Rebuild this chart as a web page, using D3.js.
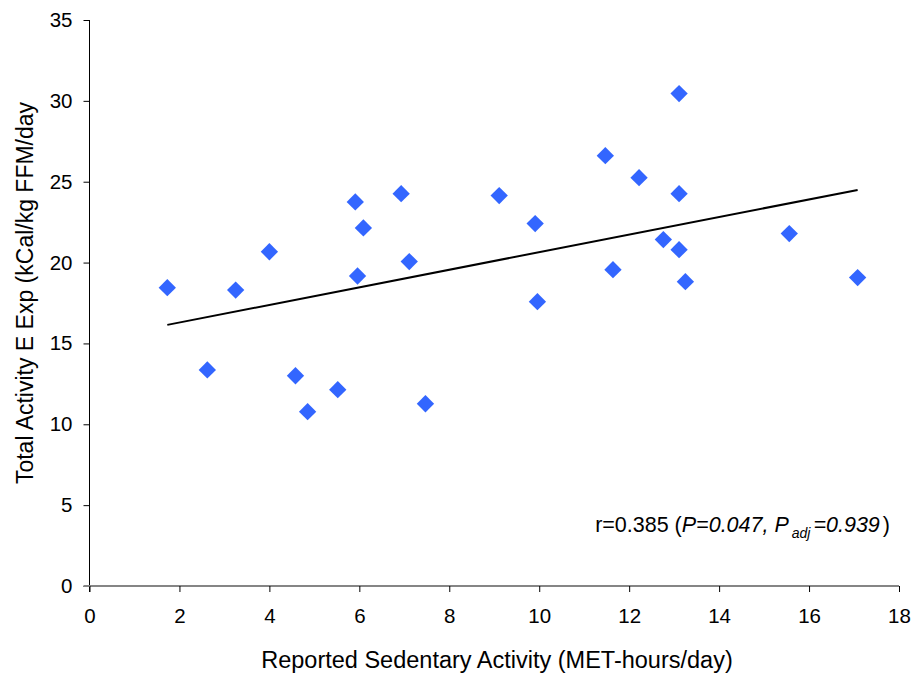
<!DOCTYPE html>
<html>
<head>
<meta charset="utf-8">
<script src="https://cdn.jsdelivr.net/npm/d3@7"></script>
<style>
  body { margin: 0; background: #fff; }
  svg { display: block; font-family: "Liberation Sans", Arial, sans-serif; }
</style>
</head>
<body>
<svg id="chart" width="917" height="677"></svg>
<script>
// reported sedentary activity (MET-hours/day)
var sedentary = [1.73, 2.62, 3.25, 4.0, 4.58, 4.85, 5.52, 5.91, 5.96, 6.09, 6.93, 7.11, 7.47,
  9.11, 9.91, 9.96, 11.47, 11.64, 12.22, 12.76, 13.11, 13.11, 13.11, 13.25, 15.56, 17.08];
// total activity energy expenditure (kCal/kg FFM/day)
var activityExp = [18.45, 13.36, 18.3, 20.67, 13.0, 10.78, 12.14, 23.75, 19.17, 22.14, 24.26, 20.06, 11.27,
  24.14, 22.41, 17.58, 26.61, 19.56, 25.25, 21.42, 30.45, 24.26, 20.8, 18.82, 21.79, 19.07];
var xTicks = [0, 2, 4, 6, 8, 10, 12, 14, 16, 18];
var yTicks = [0, 5, 10, 15, 20, 25, 30, 35];

var svg = d3.select("#chart");
var margin = {left: 89.5, right: 18, top: 20, bottom: 91};
var width = 917 - margin.left - margin.right;
var height = 677 - margin.top - margin.bottom;

var g = svg.append("g")
    .attr("transform", "translate(" + margin.left + "," + margin.top + ")");

var x = d3.scaleLinear().domain([0, 18]).range([0, width]);
var y = d3.scaleLinear().domain([0, 35]).range([height, 0]);

var data = [];
for (var i = 0; i < sedentary.length; i++) {
  data.push({"x": sedentary[i], "y": activityExp[i]});
}

// least squares trend line
var mx = d3.mean(data, function(d) { return d.x; });
var my = d3.mean(data, function(d) { return d.y; });
var sxy = d3.sum(data, function(d) { return (d.x - mx) * (d.y - my); });
var sxx = d3.sum(data, function(d) { return (d.x - mx) * (d.x - mx); });
var slope = sxy / sxx;
var icpt = my - slope * mx;
var xExt = d3.extent(sedentary);
var trend = [{"x": xExt[0]}, {"x": xExt[1]}];

// Y axis
var yAxis = g.append("g")
    .call(d3.axisLeft(y).tickValues(yTicks).tickSize(6).tickPadding(11));
yAxis.select(".domain").attr("stroke", "#000").attr("d", "M0,0V" + (height + 6));
yAxis.selectAll("text").style("font-size", "20.5px").attr("fill", "#000");

// X axis
var xAxis = g.append("g")
    .attr("transform", "translate(0," + height + ")")
    .call(d3.axisBottom(x).tickValues(xTicks).tickSize(6).tickPadding(16));
xAxis.select(".domain").attr("stroke", "#858585").attr("stroke-width", 2)
    .attr("d", "M-6,0H" + width);
xAxis.selectAll(".tick line").attr("stroke", "#000");
xAxis.selectAll("text").style("font-size", "20.5px").attr("fill", "#000");

// trend line
var line = d3.line()
    .x(function(d) { return x(d.x); })
    .y(function(d) { return y(icpt + slope * d.x); });
g.append("path")
    .datum(trend)
    .attr("fill", "none")
    .attr("stroke", "#000")
    .attr("stroke-width", 2)
    .attr("d", line);

// points
g.selectAll(".pt")
    .data(data)
  .enter().append("path")
    .attr("class", "pt")
    .attr("d", d3.symbol().type(d3.symbolSquare).size(150))
    .attr("transform", function(d) { return "translate(" + x(d.x) + "," + y(d.y) + ") rotate(45)"; })
    .attr("fill", "#3366FF");

// axis titles
svg.append("text")
    .attr("x", 497)
    .attr("y", 668)
    .style("text-anchor", "middle")
    .style("font-size", "23.5px")
    .text("Reported Sedentary Activity (MET-hours/day)");

svg.append("text")
    .attr("transform", "translate(33,293) rotate(-90)")
    .style("text-anchor", "middle")
    .style("font-size", "23px")
    .text("Total Activity E Exp (kCal/kg FFM/day");

// annotation
var note = svg.append("text")
    .attr("x", 890)
    .attr("y", 532)
    .style("text-anchor", "end")
    .style("font-size", "21.5px");
note.append("tspan").text("r=0.385 (");
note.append("tspan").style("font-style", "italic").text("P=0.047, P");
note.append("tspan").style("font-style", "italic").style("font-size", "14px").attr("dx", 3).attr("dy", 6).text("adj");
note.append("tspan").style("font-style", "italic").attr("dx", 3).attr("dy", -6).text("=0.939");
note.append("tspan").attr("dx", 3).text(")");
</script>
</body>
</html>
